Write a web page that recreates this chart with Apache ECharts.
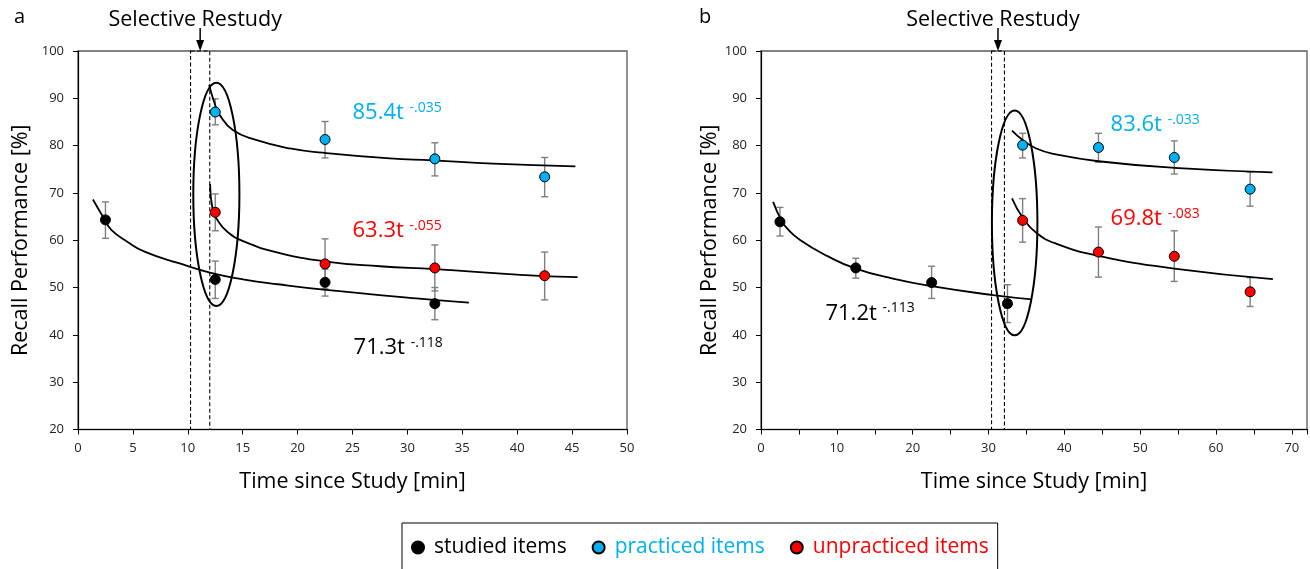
<!DOCTYPE html>
<html><head><meta charset="utf-8">
<script src="https://cdn.jsdelivr.net/npm/echarts@6/dist/echarts.min.js"></script>
<style>html,body{margin:0;padding:0;background:#fff}#c{width:1310px;height:569px}</style>
</head><body><div id="c"></div>
<script>
// ---------- DATA ----------
const seriesNames = ['studied items', 'practiced items', 'unpracticed items'];
const yTicks = [20, 100, 10];

// Panel a
const studiedXA = [2.5, 12.5, 22.5, 32.5];
const studiedA = [64.3, 51.7, 51.1, 46.6];
const studiedErrA = [[60.4, 68.1], [47.7, 55.6], [48.2, 53.9], [43.2, 50.0]];
const practicedXA = [12.5, 22.5, 32.5, 42.5];
const practicedA = [87.1, 81.3, 77.2, 73.4];
const practicedErrA = [[84.4, 89.9], [77.4, 85.1], [73.6, 80.6], [69.2, 77.5]];
const unpracticedXA = [12.5, 22.5, 32.5, 42.5];
const unpracticedA = [65.9, 55.0, 54.15, 52.5];
const unpracticedErrA = [[62.0, 69.8], [49.8, 60.3], [49.3, 59.0], [47.4, 57.5]];
const fitStudiedA = [[1.36, 68.6], [2.42, 64.4], [3.03, 62.2], [4.55, 59.6], [6.06, 57.6], [9.1, 55.2], [12.1, 53.1], [15.15, 51.7], [18.2, 50.7], [22.6, 49.5], [30.8, 47.7], [35.6, 46.8]];
const fitPracticedA = [[11.94, 92.8], [12.45, 88.9], [12.9, 86.5], [14.1, 83.3], [16.2, 81.2], [19.3, 79.4], [22.3, 78.5], [28.4, 77.3], [32.3, 76.9], [37.8, 76.2], [45.3, 75.6]];
const fitUnpracticedA = [[12.03, 71.9], [12.27, 66.4], [12.7, 64.3], [13.6, 61.8], [15.15, 59.7], [18.2, 57.4], [22.6, 55.5], [27.5, 54.5], [32.5, 53.9], [40.3, 52.7], [45.5, 52.2]];
const restudyA = [10.25, 12.0];
const ellipseA = [12.6, 69.7, 2.1, 23.6]; // centre x, centre y, half width, half height (data units)
const formulasA = [
  { coef: '85.4t', exp: '-.035', color: '#00b0f0', at: [25.0, 89.7] },
  { coef: '63.3t', exp: '-.055', color: '#ff0000', at: [25.0, 64.7] },
  { coef: '71.3t', exp: '-.118', color: '#000000', at: [25.1, 40.0] }
];

// Panel b
const studiedXB = [2.5, 12.5, 22.5, 32.5];
const studiedB = [63.9, 54.15, 51.05, 46.6];
const studiedErrB = [[60.9, 66.95], [52.0, 56.2], [47.7, 54.5], [42.6, 50.6]];
const practicedXB = [34.5, 44.5, 54.5, 64.5];
const practicedB = [80.1, 79.6, 77.5, 70.8];
const practicedErrB = [[77.4, 82.6], [76.5, 82.6], [74.0, 81.0], [67.2, 74.4]];
const unpracticedXB = [34.5, 44.5, 54.5, 64.5];
const unpracticedB = [64.2, 57.5, 56.6, 49.1];
const unpracticedErrB = [[59.6, 68.8], [52.2, 62.8], [51.3, 62.0], [46.0, 52.1]];
const fitStudiedB = [[1.6, 68.1], [2.65, 64.3], [3.44, 62.5], [5.2, 60.0], [8.7, 56.7], [12.5, 54.0], [17.4, 51.9], [22.5, 50.3], [30.6, 48.4], [35.7, 47.5]];
const fitPracticedB = [[33.1, 83.15], [34.5, 81.2], [36.3, 79.4], [38.9, 78.15], [44.5, 76.7], [54.5, 75.3], [67.45, 74.35]];
const fitUnpracticedB = [[33.1, 68.85], [34.5, 64.8], [36.3, 61.6], [38.9, 59.3], [44.5, 56.7], [54.5, 54.0], [67.5, 51.8]];
const restudyB = [30.4, 32.1];
const ellipseB = [33.45, 63.65, 3.0, 23.75];
const formulasB = [
  { coef: '83.6t', exp: '-.033', color: '#00b0f0', at: [46.1, 87.2] },
  { coef: '69.8t', exp: '-.083', color: '#ff0000', at: [46.1, 67.3] },
  { coef: '71.2t', exp: '-.113', color: '#000000', at: [8.5, 47.3] }
];

// ---------- STYLE ----------
const FONT = 'Open Sans';
const colors = { studied: '#000000', practiced: '#00b0f0', unpracticed: '#ff0000' };

function scatter(name, xs, ys, color, gi) {
  return {
    name, type: 'scatter', xAxisIndex: gi, yAxisIndex: gi, z: 5,
    symbol: 'circle', symbolSize: 10,
    itemStyle: { color, borderColor: '#000', borderWidth: 1, opacity: 1 },
    data: xs.map((x, i) => [x, ys[i]])
  };
}
function errBars(xs, errs, gi) {
  return {
    type: 'custom', xAxisIndex: gi, yAxisIndex: gi, z: 2, silent: true,
    encode: { x: 0, y: [1, 2] },
    data: xs.map((x, i) => [x, errs[i][0], errs[i][1]]),
    renderItem(p, api) {
      const lo = api.coord([api.value(0), api.value(1)]);
      const hi = api.coord([api.value(0), api.value(2)]);
      const w = 3.5, st = { stroke: '#7f7f7f', lineWidth: 1.4 };
      return { type: 'group', children: [
        { type: 'line', shape: { x1: lo[0], y1: lo[1], x2: hi[0], y2: hi[1] }, style: st },
        { type: 'line', shape: { x1: lo[0] - w, y1: lo[1], x2: lo[0] + w, y2: lo[1] }, style: st },
        { type: 'line', shape: { x1: hi[0] - w, y1: hi[1], x2: hi[0] + w, y2: hi[1] }, style: st }
      ]};
    }
  };
}
function fit(data, gi) {
  return {
    type: 'line', xAxisIndex: gi, yAxisIndex: gi, z: 3, silent: true,
    showSymbol: false, symbol: 'none', smooth: 0.5,
    lineStyle: { color: '#000', width: 1.8 }, data
  };
}
function ellipse(e, gi) {
  return {
    type: 'custom', xAxisIndex: gi, yAxisIndex: gi, z: 3, silent: true, clip: false,
    data: [e],
    renderItem(p, api) {
      const c = api.coord([api.value(0), api.value(1)]);
      const s = api.size([api.value(2), api.value(3)]);
      return { type: 'ellipse', shape: { cx: c[0], cy: c[1], rx: s[0], ry: s[1] },
        style: { fill: 'none', stroke: '#000', lineWidth: 2 } };
    }
  };
}
function restudy(r, gi) {
  return {
    type: 'custom', xAxisIndex: gi, yAxisIndex: gi, z: 1, silent: true, clip: false,
    data: [[r[0], r[1], yTicks[1], yTicks[0]]],
    renderItem(p, api) {
      const a = api.coord([api.value(0), api.value(2)]);
      const b = api.coord([api.value(1), api.value(3)]);
      const mx = (a[0] + b[0]) / 2, top = a[1];
      return { type: 'group', children: [
        { type: 'rect', shape: { x: a[0], y: a[1], width: b[0] - a[0], height: b[1] - a[1] },
          style: { fill: 'none', stroke: '#000', lineWidth: 1.1, lineDash: [4, 2.5] } },
        { type: 'line', shape: { x1: mx, y1: top - 23, x2: mx, y2: top - 10 }, style: { stroke: '#000', lineWidth: 1.5 } },
        { type: 'polygon', shape: { points: [[mx - 4, top - 11], [mx + 4, top - 11], [mx, top]] }, style: { fill: '#000' } },
        { type: 'text', x: mx - 5, y: top - 31.5, style: { text: 'Selective Restudy', fontFamily: FONT, fontSize: 21.5,
          fill: '#000', align: 'center', verticalAlign: 'middle' } }
      ]};
    }
  };
}
function formulas(list, gi) {
  return {
    type: 'custom', xAxisIndex: gi, yAxisIndex: gi, z: 6, silent: true, clip: false,
    data: list.map(f => f.at),
    renderItem(p, api) {
      const f = list[p.dataIndex];
      const c = api.coord([api.value(0), api.value(1)]);
      return { type: 'text', x: c[0], y: c[1], style: {
        text: '{m|' + f.coef + ' }{s|' + f.exp + '}', align: 'left', verticalAlign: 'top',
        fontFamily: FONT, fontSize: 22,
        rich: {
          m: { fontFamily: FONT, fontSize: 22, lineHeight: 26, fill: f.color, color: f.color },
          s: { fontFamily: FONT, fontSize: 14, lineHeight: 15, fill: f.color, color: f.color, verticalAlign: 'top', padding: [1, 0, 0, 0] }
        }
      }};
    }
  };
}
function xAxis(gi, max, interval, labelEvery) {
  return {
    gridIndex: gi, type: 'value', min: 0, max, interval,
    axisLine: { show: true, lineStyle: { color: '#000', width: 1.2 } },
    axisTick: { show: true, inside: false, length: 5, lineStyle: { color: '#000' } },
    axisLabel: { fontFamily: FONT, fontSize: 13, color: '#222', margin: 12,
      formatter: v => (v % labelEvery === 0 ? String(v) : '') },
    splitLine: { show: false },
    name: 'Time since Study [min]', nameLocation: 'middle', nameGap: 41,
    nameTextStyle: { fontFamily: FONT, fontSize: 21.5, color: '#000' }
  };
}
function yAxis(gi, gap) {
  return {
    gridIndex: gi, type: 'value', min: yTicks[0], max: yTicks[1], interval: yTicks[2],
    axisLine: { show: true, lineStyle: { color: '#000', width: 1.2 } },
    axisTick: { show: true, inside: false, length: 5, lineStyle: { color: '#000' } },
    axisLabel: { fontFamily: FONT, fontSize: 13, color: '#222', margin: 14 },
    splitLine: { show: false },
    name: 'Recall Performance [%]', nameLocation: 'middle', nameGap: gap,
    nameTextStyle: { fontFamily: FONT, fontSize: 21.5, color: '#000' }
  };
}

const chart = echarts.init(document.getElementById('c'), null, { renderer: 'canvas' });
chart.setOption({
  animation: false,
  backgroundColor: '#fff',
  textStyle: { fontFamily: FONT },
  grid: [
    { left: 78, top: 51, width: 549, height: 378.5, show: true, borderColor: '#595959', borderWidth: 1.3, backgroundColor: 'transparent' },
    { left: 761, top: 51, width: 547, height: 378.5, show: true, borderColor: '#595959', borderWidth: 1.3, backgroundColor: 'transparent' }
  ],
  xAxis: [xAxis(0, 50, 5, 5), xAxis(1, 72, 5, 10)],
  yAxis: [yAxis(0, 46), yAxis(1, 40)],
  legend: {
    left: 402, top: 523, orient: 'horizontal',
    padding: [14, 9, 40, 9], itemGap: 25, itemWidth: 12, itemHeight: 12,
    borderColor: '#000', borderWidth: 1, selectedMode: false,
    textStyle: { fontFamily: FONT, fontSize: 21, padding: [0, 0, 0, 5] },
    data: [
      { name: seriesNames[0], icon: 'circle', textStyle: { color: colors.studied } },
      { name: seriesNames[1], icon: 'circle', textStyle: { color: colors.practiced } },
      { name: seriesNames[2], icon: 'circle', textStyle: { color: colors.unpracticed } }
    ]
  },
  graphic: [
    { type: 'text', left: 14, top: 7, style: { text: 'a', fontFamily: FONT, fontSize: 20, fill: '#000' } },
    { type: 'text', left: 699, top: 7, style: { text: 'b', fontFamily: FONT, fontSize: 20, fill: '#000' } }
  ],
  series: [
    restudy(restudyA, 0), restudy(restudyB, 1),
    errBars(studiedXA, studiedErrA, 0), errBars(practicedXA, practicedErrA, 0), errBars(unpracticedXA, unpracticedErrA, 0),
    errBars(studiedXB, studiedErrB, 1), errBars(practicedXB, practicedErrB, 1), errBars(unpracticedXB, unpracticedErrB, 1),
    fit(fitStudiedA, 0), fit(fitPracticedA, 0), fit(fitUnpracticedA, 0),
    fit(fitStudiedB, 1), fit(fitPracticedB, 1), fit(fitUnpracticedB, 1),
    ellipse(ellipseA, 0), ellipse(ellipseB, 1),
    scatter(seriesNames[0], studiedXA, studiedA, colors.studied, 0),
    scatter(seriesNames[1], practicedXA, practicedA, colors.practiced, 0),
    scatter(seriesNames[2], unpracticedXA, unpracticedA, colors.unpracticed, 0),
    scatter(seriesNames[0], studiedXB, studiedB, colors.studied, 1),
    scatter(seriesNames[1], practicedXB, practicedB, colors.practiced, 1),
    scatter(seriesNames[2], unpracticedXB, unpracticedB, colors.unpracticed, 1),
    formulas(formulasA, 0), formulas(formulasB, 1)
  ]
});
</script></body></html>
